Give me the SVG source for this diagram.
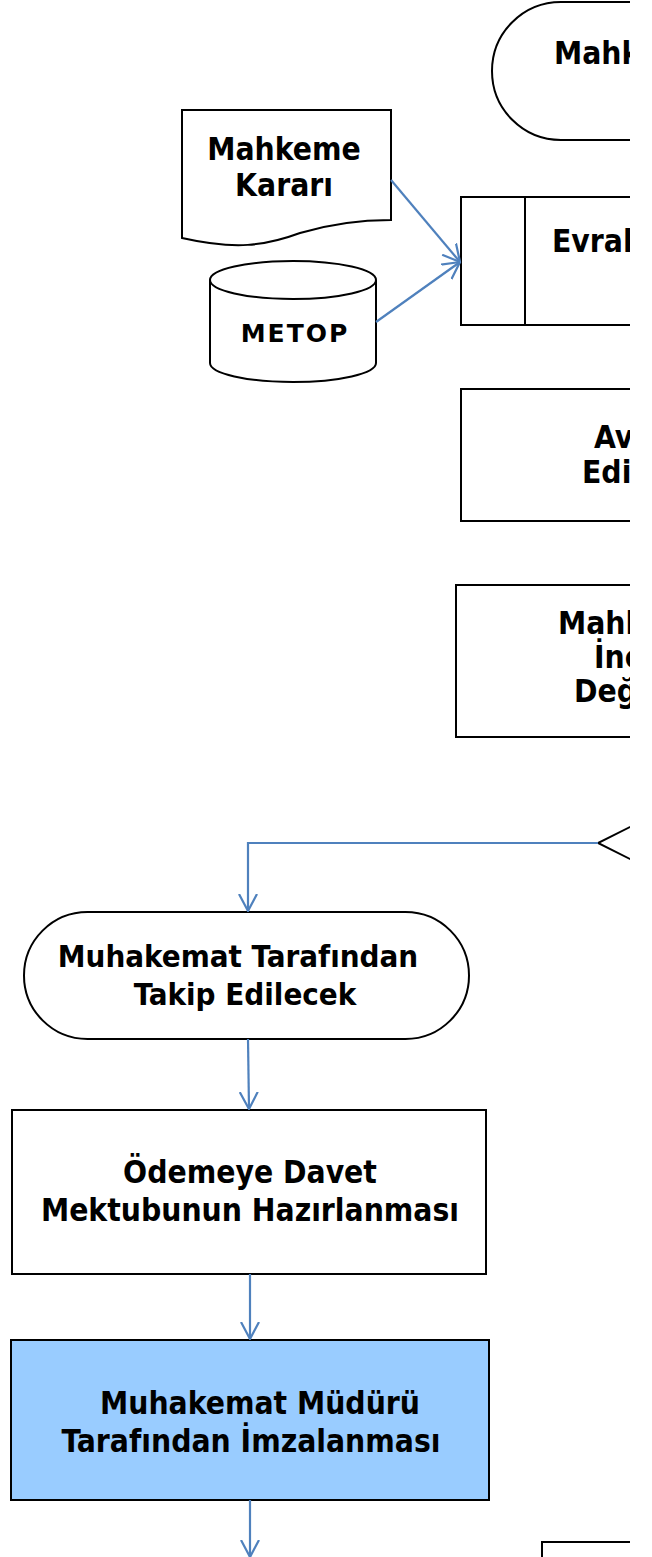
<svg xmlns="http://www.w3.org/2000/svg" width="652" height="1557" viewBox="0 0 652 1557">
<style>
.n{fill:#fff;stroke:#000;stroke-width:2}
.t{font-family:"DejaVu Sans Condensed","DejaVu Sans",sans-serif;font-weight:bold;font-size:31.5px;fill:#000}
.c{text-anchor:middle}
.e{fill:none;stroke:#4F81BD;stroke-width:2.2}
</style>
<defs>
<clipPath id="clip"><rect x="0" y="0" width="630" height="1557"/></clipPath>
<marker id="ah" markerUnits="userSpaceOnUse" viewBox="0 0 18 20" refX="17" refY="10" markerWidth="18" markerHeight="20" orient="auto">
<path d="M0,1 L17,10 L0,19" fill="none" stroke="#4F81BD" stroke-width="2.2"/>
</marker>
</defs>
<rect width="652" height="1557" fill="#fff"/>
<g clip-path="url(#clip)">
<g id="start">
<rect class="n" x="492" y="2" width="400" height="138" rx="69"/>
<text class="t" x="554" y="64">Mahkeme</text>
</g>
<g id="mahkeme-karari">
<path class="n" d="M182,110 H391 V220 C360,220 330,224 300,233 C265,246 235,250 182,238 Z"/>
<text class="t c" x="284" y="160">Mahkeme</text>
<text class="t c" x="284" y="196">Kararı</text>
</g>
<g id="metop">
<path class="n" d="M210,280 A83,19 0 0 1 376,280 V363 A83,19 0 0 1 210,363 Z"/>
<path class="n" fill="none" d="M210,280 A83,19 0 0 0 376,280"/>
<text class="t c" style="font-family:'DejaVu Sans',sans-serif;font-size:25px;letter-spacing:2px" x="295" y="342">METOP</text>
</g>
<g id="evrak">
<rect class="n" x="461" y="197" width="300" height="128"/>
<line x1="525" y1="197" x2="525" y2="325" stroke="#000" stroke-width="2"/>
<text class="t" x="552" y="252">Evrak</text>
</g>
<g id="avukat">
<rect class="n" x="461" y="389" width="300" height="132"/>
<text class="t" x="594" y="448">Avukata</text>
<text class="t" x="582" y="483">Edilmesi</text>
</g>
<g id="inceleme">
<rect class="n" x="456" y="585" width="300" height="152"/>
<text class="t" x="558" y="634">Mahkeme</text>
<text class="t" x="594" y="668">İnceleme</text>
<text class="t" x="574" y="702">Değerlendirme</text>
</g>
<g id="karar">
<polyline class="n" fill="none" points="650,817 598,843 650,869"/>
</g>
<g id="muhakemat">
<rect class="n" x="24" y="912" width="445" height="127" rx="63.5"/>
<text class="t c" style="font-size:31px" x="238" y="967">Muhakemat Tarafından</text>
<text class="t c" style="font-size:31px" x="245" y="1005">Takip Edilecek</text>
</g>
<g id="odeme">
<rect class="n" x="12" y="1110" width="474" height="164"/>
<text class="t c" x="250" y="1183">Ödemeye Davet</text>
<text class="t c" x="250" y="1221">Mektubunun Hazırlanması</text>
</g>
<g id="imza">
<rect x="11" y="1340" width="478" height="160" fill="#99CCFF" stroke="#000" stroke-width="2"/>
<text class="t c" x="260" y="1414">Muhakemat Müdürü</text>
<text class="t c" x="251" y="1452">Tarafından İmzalanması</text>
</g>
<g id="next">
<rect class="n" x="542" y="1542" width="300" height="100"/>
</g>
<g id="connectors">
<path class="e" d="M391,180 L460,262" marker-end="url(#ah)"/>
<path class="e" d="M376,322 L460,262" marker-end="url(#ah)"/>
<path class="e" d="M598,843 H248 V911" marker-end="url(#ah)"/>
<path class="e" d="M248,1039 L249,1109" marker-end="url(#ah)"/>
<path class="e" d="M250,1274 V1339" marker-end="url(#ah)"/>
<path class="e" d="M250,1500 V1557" marker-end="url(#ah)"/>
</g>
</g>
</svg>
